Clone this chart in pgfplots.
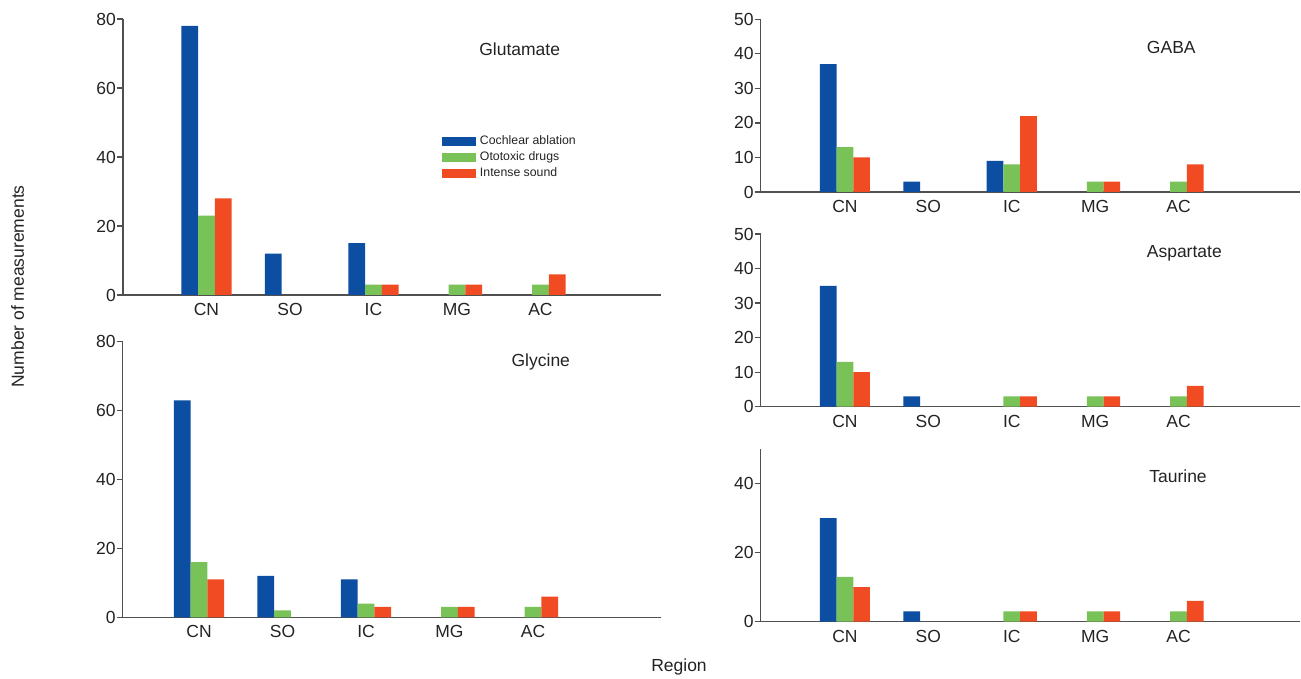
\documentclass[border=0pt]{standalone}
\usepackage{fontspec}
\setmainfont{Liberation Sans}
\usepackage{pgfplots}
\pgfplotsset{compat=1.18}
\definecolor{cblue}{RGB}{11,78,162}
\definecolor{cgreen}{RGB}{120,194,87}
\definecolor{cred}{RGB}{240,75,35}
\definecolor{axgray}{RGB}{80,80,80}
\definecolor{txt}{RGB}{35,35,35}
\newcommand{\tickfont}{\fontsize{17.5}{21}\selectfont}
\newcommand{\legfont}{\fontsize{12.3}{14}\selectfont}
\pgfplotsset{
  panel/.style={
    scale only axis, anchor=south west,
    axis x line=bottom, axis y line=left,
    axis line style={-, line width=1.2pt, draw=axgray},
    ybar,
    xtick={0,1,2,3,4}, xticklabels={CN,SO,IC,MG,AC},
    x tick style={draw=none},
    y tick style={line width=1.2pt, draw=axgray},
    tick align=outside, major tick length=6pt,
    ymin=0,
    ticklabel style={font=\tickfont, text=txt},
    xticklabel style={inner sep=0pt, yshift=-2pt},
    yticklabel style={inner sep=1pt},
    /pgf/number format/assume math mode=true,
    enlargelimits=false, clip=false,
    bar width=0.2,
  },
  bb/.style={fill=cblue, draw=none, bar shift=-0.2},
  bg/.style={fill=cgreen, draw=none, bar shift=0},
  br/.style={fill=cred, draw=none, bar shift=0.2},
}
\begin{document}
\begin{tikzpicture}[x=1pt,y=1pt]
\useasboundingbox (0,0) rectangle (1301,679);
% Glutamate
\begin{axis}[panel, at={(123pt,384pt)}, width=537.7pt, height=276pt,
  xmin=-1, xmax=5.44, ymax=80, ytick={0,20,40,60,80},
  legend image code/.code={\fill[#1] (0pt,-4.5pt) rectangle (34pt,4.5pt);},
  legend cell align=left,
  legend style={at={(0.5927,0.4995)}, anchor=west, draw=none, fill=none,
    inner sep=0pt, row sep=4pt, font=\legfont, text=txt,
    nodes={inner sep=0pt, text height=9pt, text depth=3pt},
    /tikz/column 2/.style={column sep=0pt}}]
\addplot[bb] coordinates {(0,78) (1,12) (2,15)};
\addplot[bg] coordinates {(0,23) (2,3) (3,3) (4,3)};
\addplot[br] coordinates {(0,28) (2,3) (3,3) (4,6)};
\legend{\,\,Cochlear ablation,\,\,Ototoxic drugs,\,\,Intense sound}
\end{axis}
% Glycine
\begin{axis}[panel, at={(122.7pt,61.7pt)}, width=538.3pt, height=275.6pt,
  xmin=-0.914, xmax=5.533, ymax=80, ytick={0,20,40,60,80}]
\addplot[bb] coordinates {(0,63) (1,12) (2,11)};
\addplot[bg] coordinates {(0,16) (1,2) (2,4) (3,3) (4,3)};
\addplot[br] coordinates {(0,11) (2,3) (3,3) (4,6)};
\end{axis}
% GABA
\begin{axis}[panel, at={(760.7pt,487pt)}, width=539.3pt, height=172.7pt,
  xmin=-1.01, xmax=5.456, ymax=50, ytick={0,10,20,30,40,50}]
\addplot[bb] coordinates {(0,37) (1,3) (2,9)};
\addplot[bg] coordinates {(0,13) (2,8) (3,3) (4,3)};
\addplot[br] coordinates {(0,10) (2,22) (3,3) (4,8)};
\end{axis}
% Aspartate
\begin{axis}[panel, at={(760.7pt,272.3pt)}, width=539.3pt, height=172.7pt,
  xmin=-1.01, xmax=5.456, ymax=50, ytick={0,10,20,30,40,50}]
\addplot[bb] coordinates {(0,35) (1,3)};
\addplot[bg] coordinates {(0,13) (2,3) (3,3) (4,3)};
\addplot[br] coordinates {(0,10) (2,3) (3,3) (4,6)};
\end{axis}
% Taurine
\begin{axis}[panel, at={(760.7pt,57.3pt)}, width=539.3pt, height=172.7pt,
  xmin=-1.01, xmax=5.456, ymax=50, ytick={0,20,40}]
\addplot[bb] coordinates {(0,30) (1,3)};
\addplot[bg] coordinates {(0,13) (2,3) (3,3) (4,3)};
\addplot[br] coordinates {(0,10) (2,3) (3,3) (4,6)};
\end{axis}
% titles
\begin{scope}[every node/.style={font=\tickfont, text=txt, inner sep=0pt, anchor=base}]
\node at (519.7,623) {Glutamate};
\node at (540.8,312.5) {Glycine};
\node at (1171.3,625.7) {GABA};
\node at (1184.3,421.3) {Aspartate};
\node at (1178,196.3) {Taurine};
\node at (679,7) {Region};
\node[rotate=90] at (24,392.5) {Number of measurements};
\end{scope}
\end{tikzpicture}
\end{document}
